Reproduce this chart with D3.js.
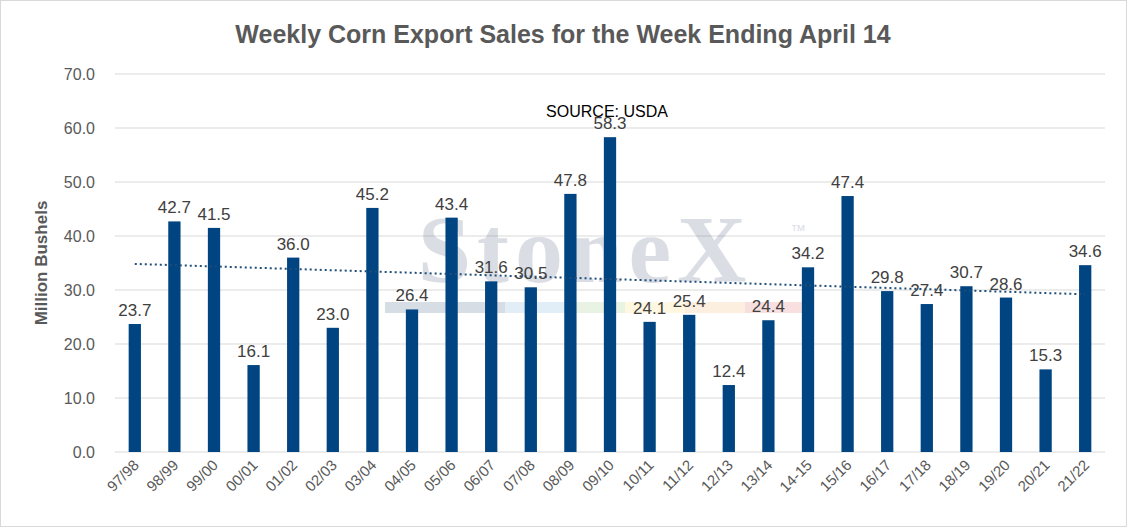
<!DOCTYPE html>
<html>
<head>
<meta charset="utf-8">
<script src="https://cdn.jsdelivr.net/npm/d3@7"></script>
<style>
body { margin: 0; background: #fff; font-family: Arial, "Liberation Sans", sans-serif; }
</style>
</head>
<body>
<svg id="chart" width="1127" height="527"></svg>
<script>
var seasons = ["97/98","98/99","99/00","00/01","01/02","02/03","03/04","04/05","05/06","06/07","07/08","08/09","09/10","10/11","11/12","12/13","13/14","14-15","15/16","16/17","17/18","18/19","19/20","20/21","21/22"];
var sales = [23.7,42.7,41.5,16.1,36.0,23.0,45.2,26.4,43.4,31.6,30.5,47.8,58.3,24.1,25.4,12.4,24.4,34.2,47.4,29.8,27.4,30.7,28.6,15.3,34.6];
var yTicks = [0,10,20,30,40,50,60,70];

var svg = d3.select("#chart");
var m = {left: 115, right: 1105, top: 74, bottom: 452};

svg.append("rect").attr("x", 0.5).attr("y", 0.5).attr("width", 1126).attr("height", 526)
  .attr("fill", "#fff").attr("stroke", "#d9d9d9");

var x = d3.scaleBand().domain(seasons).range([m.left, m.right]).paddingInner(0.69).paddingOuter(0.345);
var y = d3.scaleLinear().domain([0, 70]).range([m.bottom, m.top]);

// gridlines
svg.append("g").selectAll("line").data(yTicks).join("line")
  .attr("x1", m.left).attr("x2", m.right)
  .attr("y1", d => y(d)).attr("y2", d => y(d))
  .attr("stroke", "#d9d9d9");

svg.append("g").selectAll("text").data(yTicks).join("text")
  .attr("x", m.left - 20).attr("y", d => y(d) + 6)
  .attr("text-anchor", "end").attr("font-size", 16).attr("fill", "#595959")
  .text(d => d.toFixed(1));

// watermark
var wm = svg.append("g").attr("opacity", 0.2);
wm.append("text").attr("x", 585).attr("y", 282).attr("text-anchor", "middle")
  .attr("font-family", "Liberation Serif, serif").attr("font-weight", "bold")
  .attr("font-size", 96).attr("fill", "#4a5a7a").attr("letter-spacing", 6).text("StoneX");
wm.append("text").attr("x", 790).attr("y", 236).attr("font-size", 16).attr("fill", "#4a5a7a").text("™");
var wmCols = ["#3d5a80","#3d5a80","#6fa8dc","#93c47d","#ffd966","#f6b26b","#e06666"];
wm.selectAll("rect").data(wmCols).join("rect")
  .attr("x", (d, i) => 385 + i * 60).attr("y", 302).attr("width", 60).attr("height", 11)
  .attr("fill", d => d);

// bars
svg.append("g").selectAll("rect").data(sales).join("rect")
  .attr("x", (d, i) => x(seasons[i])).attr("width", x.bandwidth())
  .attr("y", d => y(d)).attr("height", d => y(0) - y(d))
  .attr("fill", "#004481");

// trendline (least squares)
var n = sales.length, xm = (n - 1) / 2, ym = d3.mean(sales);
var slope = d3.sum(sales, (d, i) => (i - xm) * (d - ym)) / d3.sum(sales, (d, i) => (i - xm) * (i - xm));
var icpt = ym - slope * xm;
svg.append("line")
  .attr("x1", x(seasons[0]) + x.bandwidth() / 2).attr("y1", y(icpt))
  .attr("x2", x(seasons[n - 1]) + x.bandwidth() / 2).attr("y2", y(icpt + slope * (n - 1)))
  .attr("stroke", "#1f4e79").attr("stroke-width", 2).attr("stroke-dasharray", "2,3");

// value labels
svg.append("g").selectAll("text").data(sales).join("text")
  .attr("x", (d, i) => x(seasons[i]) + x.bandwidth() / 2).attr("y", d => y(d) - 8)
  .attr("text-anchor", "middle").attr("font-size", 17).attr("fill", "#404040")
  .text(d => d.toFixed(1));

// x labels
svg.append("g").selectAll("text").data(seasons).join("text")
  .attr("transform", d => "translate(" + (x(d) + x.bandwidth() / 2 + 5) + "," + (m.bottom + 14) + ") rotate(-45)")
  .attr("text-anchor", "end").attr("font-size", 15).attr("fill", "#595959")
  .text(d => d);

svg.append("text").attr("x", 563).attr("y", 43).attr("text-anchor", "middle")
  .attr("font-size", 25).attr("font-weight", "bold").attr("fill", "#595959")
  .text("Weekly Corn Export Sales for the Week Ending April 14");

svg.append("text").attr("x", 607).attr("y", 117).attr("text-anchor", "middle")
  .attr("font-size", 16).attr("fill", "#000").text("SOURCE: USDA");

svg.append("text").attr("transform", "translate(47," + ((m.top + m.bottom) / 2) + ") rotate(-90)")
  .attr("text-anchor", "middle").attr("font-size", 17).attr("font-weight", "bold").attr("fill", "#595959")
  .text("Million Bushels");
</script>
</body>
</html>
